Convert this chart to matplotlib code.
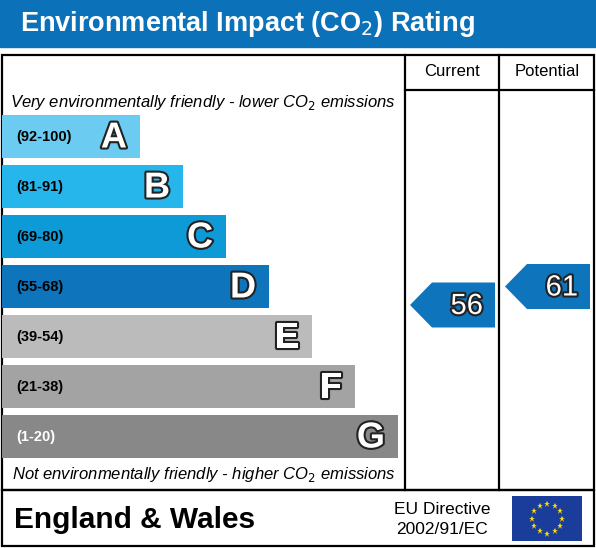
import matplotlib
matplotlib.use("Agg")
import matplotlib.pyplot as plt
from matplotlib.patches import Rectangle, Polygon
import matplotlib.patheffects as pe
import numpy as np

letters = ["A", "B", "C", "D", "E", "F", "G"]
ranges = ["(92-100)", "(81-91)", "(69-80)", "(55-68)", "(39-54)", "(21-38)", "(1-20)"]
colors = ["#6ccbf1", "#27b6ec", "#0e9ad6", "#0e74bb", "#bbbbbb", "#a3a3a3", "#888888"]
current = 56
potential = 61
bounds = [92, 81, 69, 55, 39, 21, 1]

W, H = 596, 548
fig = plt.figure(figsize=(W/100, H/100), dpi=100)
ax = fig.add_axes([0, 0, 1, 1])
ax.set_xlim(0, W); ax.set_ylim(H, 0); ax.axis("off")

blue = "#0b72b9"
ax.add_patch(Rectangle((0, 0), W, 47, color=blue))
ax.text(20, 24, "Environmental Impact (CO$_2$) Rating", color="white", fontsize=19.5,
        fontweight="bold", va="center", family="Liberation Sans")

lw = 1.6
ax.add_patch(Rectangle((2, 55), 592, 435, fill=False, lw=lw, ec="black"))
ax.plot([405, 405], [55, 490], color="black", lw=lw)
ax.plot([499, 499], [55, 490], color="black", lw=lw)
ax.plot([405, 594], [90, 90], color="black", lw=lw)
ax.add_patch(Rectangle((2, 490), 592, 56, fill=False, lw=lw, ec="black"))
ax.text(452, 72, "Current", ha="center", va="center", fontsize=12, family="Liberation Sans")
ax.text(547, 72, "Potential", ha="center", va="center", fontsize=12, family="Liberation Sans")

ax.text(10, 102, "Very environmentally friendly - lower CO$_2$ emissions", fontsize=12,
        style="italic", va="center", family="Liberation Sans")
ax.text(12, 475, "Not environmentally friendly - higher CO$_2$ emissions", fontsize=12,
        style="italic", va="center", family="Liberation Sans")

outline = [pe.Stroke(linewidth=3, foreground="#222222"), pe.Normal()]
for i, (L, r, c) in enumerate(zip(letters, ranges, colors)):
    y0 = 115 + i*50
    w = 138 + i*43
    ax.add_patch(Rectangle((2, y0), w, 43, color=c, lw=0))
    ax.text(16, y0+22, r, fontsize=10.5, fontweight="bold", va="center", family="Liberation Sans",
            color="black" if i < 6 else "white")
    t = ax.text(w-11, y0+23, L, fontsize=26, fontweight="bold", va="center", ha="right",
                color="white", family="Liberation Sans")
    t.set_path_effects(outline)

def band(v):
    for i, b in enumerate(bounds):
        if v >= b:
            return i
    return 6

def arrow(x0, x1, v):
    i = band(v)
    y0 = 264 + (61 - v)*3.7
    y1 = y0 + 45
    ym = (y0+y1)/2
    ax.add_patch(Polygon([(x0, ym), (x0+22, y0), (x1, y0), (x1, y1), (x0+22, y1)],
                         color=colors[i], lw=0))
    t = ax.text(x1-12, ym+1, str(v), fontsize=21, ha="right", va="center", color="white",
                family="Liberation Sans")
    t.set_path_effects(outline)

arrow(410, 495, current)
arrow(505, 590, potential)

ax.text(14, 520, "England & Wales", fontsize=21.5, fontweight="bold", va="center",
        family="Liberation Sans")
ax.text(442, 509, "EU Directive", fontsize=12.5, ha="center", va="center", family="Liberation Sans")
ax.text(442, 530, "2002/91/EC", fontsize=12.5, ha="center", va="center", family="Liberation Sans")
ax.add_patch(Rectangle((512, 496), 70, 45, color="#1a3d9c", lw=0))
cx, cy = 547, 518.5
for k in range(12):
    a = 2*np.pi*k/12
    ax.plot(cx + 15*np.cos(a), cy + 15*np.sin(a), marker="*", color="#ffdd00", ms=5, mew=0)

fig.savefig("out.png", dpi=100)
